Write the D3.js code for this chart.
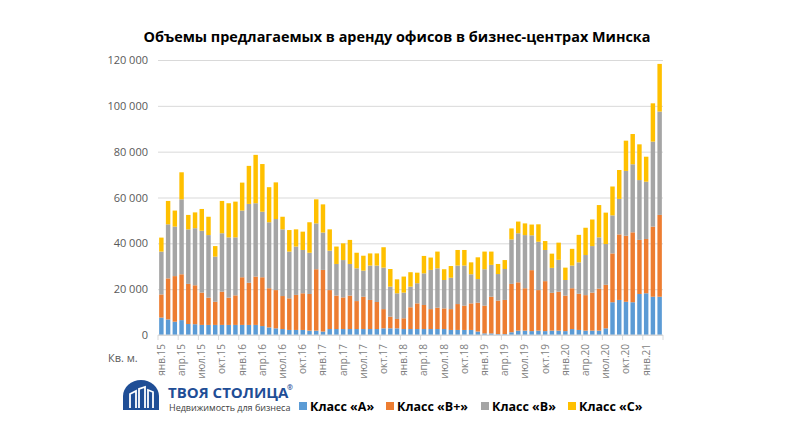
<!DOCTYPE html>
<html>
<head>
    <meta charset="UTF-8">
    <title>Объемы предлагаемых в аренду офисов</title>
    <script src="https://cdn.jsdelivr.net/npm/d3@7/dist/d3.min.js"></script>
    <style>
        body { margin: 0; background: #fff; }
        svg { display: block; font-family: "Open Sans", "Noto Sans", sans-serif; }
    </style>
</head>
<body>
<svg id="chart" width="797" height="430"></svg>
<script>
    // months jan 2015 .. mar 2021, values in thousand sq. m
    var monthNames = ["янв", "фев", "мар", "апр", "май", "июн", "июл", "авг", "сен", "окт", "ноя", "дек"];
    var months = [];
    for (var yr = 15; yr <= 21; yr++) {
        monthNames.forEach(function (m, i) {
            if (yr < 21 || i < 3) months.push(m + "." + yr);
        });
    }

    var classA = [7.6, 6.8, 5.8, 6.5, 4.8, 4.7, 4.4, 4.4, 4.4, 4.4, 4.4, 4.4,
        4.4, 4.4, 4.4, 3.9, 3.3, 2.9, 2.6, 2.2, 2.2, 2.2, 1.9, 1.9,
        1.5, 2.6, 2.6, 2.6, 2.6, 2.6, 2.6, 2.6, 2.6, 2.9, 2.9, 2.9,
        2.6, 2.6, 2.6, 2.6, 2.6, 2.6, 2.6, 2.2, 2.2, 2.2, 2.2, 1.5,
        0.7, 0.7, 0.4, 0.4, 1.2, 1.9, 1.9, 1.7, 1.9, 1.7, 1.9, 1.9,
        1.7, 2.6, 2.2, 1.9, 1.9, 1.9, 2.9, 14.3, 15.3, 14.5, 14.3, 17.9,
        18.2, 16.7, 16.7];
    var classBplus = [10.1, 17.9, 19.9, 20.0, 17.5, 17.0, 14.1, 11.9, 10.1, 14.5, 11.9, 12.9,
        20.8, 18.4, 21.1, 21.3, 17.1, 16.7, 14.4, 13.8, 15.3, 16.0, 16.0, 26.8,
        26.9, 17.0, 14.6, 13.8, 14.6, 12.2, 14.1, 12.7, 11.8, 8.4, 5.1, 4.1,
        4.7, 9.5, 11.2, 10.5, 8.7, 9.3, 9.0, 9.1, 11.3, 10.6, 11.6, 12.6,
        12.1, 16.0, 14.6, 14.9, 21.1, 21.1, 18.5, 26.6, 17.7, 21.8, 16.5, 17.0,
        15.5, 17.8, 15.8, 15.5, 16.6, 18.3, 19.0, 21.3, 28.6, 28.8, 30.5, 23.6,
        23.7, 30.6, 35.7];
    var classB = [18.7, 23.6, 21.6, 32.7, 23.8, 24.9, 27.0, 27.3, 19.7, 25.5, 26.3, 25.3,
        29.1, 34.4, 32.0, 28.6, 28.8, 31.0, 29.1, 20.4, 21.1, 18.9, 18.0, 20.0,
        16.3, 17.2, 13.8, 16.3, 13.8, 14.3, 11.4, 15.0, 15.9, 18.1, 13.1, 11.2,
        11.2, 9.0, 8.8, 13.8, 17.1, 17.2, 12.4, 13.7, 16.8, 17.5, 12.7, 10.3,
        15.9, 13.9, 11.6, 13.5, 19.4, 21.4, 23.2, 15.2, 21.1, 13.6, 10.9, 13.9,
        6.8, 9.9, 13.7, 17.5, 20.3, 22.4, 17.8, 16.6, 15.5, 28.3, 29.7, 26.1,
        25.0, 37.1, 45.1];
    var classC = [6.1, 10.2, 7.0, 11.8, 6.3, 6.9, 9.5, 8.0, 4.6, 14.1, 14.9, 15.6,
        12.2, 16.6, 21.1, 20.8, 15.3, 16.0, 5.5, 9.4, 7.5, 8.0, 13.3, 10.5,
        12.3, 9.3, 7.6, 7.3, 10.5, 6.8, 6.5, 5.3, 5.3, 8.9, 7.7, 6.1,
        7.0, 6.3, 4.6, 7.6, 5.4, 7.3, 4.7, 5.1, 6.8, 6.8, 5.2, 9.5,
        7.7, 5.8, 4.4, 3.9, 4.8, 5.1, 5.1, 4.7, 7.6, 3.9, 6.2, 7.5,
        5.4, 7.3, 12.0, 11.9, 11.6, 14.1, 13.7, 12.6, 12.6, 13.2, 13.2, 15.6,
        10.9, 16.7, 20.8];

    var seriesNames = ["Класс «А»", "Класс «В+»", "Класс «В»", "Класс «С»"];
    var seriesColors = ["#5b9bd5", "#ed7d31", "#a5a5a5", "#ffc000"];
    var yTicks = [0, 20, 40, 60, 80, 100, 120];

    var rows = months.map(function (m, i) {
        return { month: m, a: classA[i], bp: classBplus[i], b: classB[i], c: classC[i] };
    });
    var keys = ["a", "bp", "b", "c"];
    var stacked = d3.stack().keys(keys)(rows);

    var svg = d3.select("#chart");
    // plot box (note: "top" is reserved on window, so prefixed names)
    var plotLeft = 158, plotRight = 663, plotTop = 60, plotBottom = 335;

    var x = d3.scaleBand()
            .domain(months)
            .range([plotLeft, plotRight])
            .paddingInner(0.34)
            .paddingOuter(0.17);
    var y = d3.scaleLinear()
            .domain([0, 120])
            .range([plotBottom, plotTop]);

    // title
    svg.append("text")
            .attr("x", 397)
            .attr("y", 42)
            .attr("text-anchor", "middle")
            .style("font-size", "14.4px")
            .style("font-weight", "700")
            .style("fill", "#000")
            .text("Объемы предлагаемых в аренду офисов в бизнес-центрах Минска");

    // gridlines + y labels
    var yAxis = svg.append("g")
            .attr("transform", "translate(" + plotLeft + ",0)")
            .call(d3.axisLeft(y)
                    .tickValues(yTicks)
                    .tickSize(-(plotRight - plotLeft))
                    .tickPadding(10)
                    .tickFormat(function (d) {
                        return d === 0 ? "0" : d + " 000";
                    }));
    yAxis.select(".domain").remove();
    yAxis.selectAll(".tick line").attr("stroke", "#d9d9d9").attr("stroke-width", 1);
    yAxis.selectAll(".tick text")
            .style("font-size", "11px")
            .style("fill", "#595959")
            .style("font-family", "'Open Sans', sans-serif");

    // bars
    svg.append("g")
            .selectAll("g")
            .data(stacked)
            .enter()
            .append("g")
            .attr("fill", function (d, i) {
                return seriesColors[i];
            })
            .selectAll("rect")
            .data(function (d) {
                return d;
            })
            .enter()
            .append("rect")
            .attr("x", function (d) {
                return x(d.data.month);
            })
            .attr("y", function (d) {
                return y(d[1]);
            })
            .attr("width", x.bandwidth())
            .attr("height", function (d) {
                return y(d[0]) - y(d[1]);
            });

    // x axis line and quarter ticks
    svg.append("line")
            .attr("x1", plotLeft).attr("x2", plotRight)
            .attr("y1", plotBottom).attr("y2", plotBottom)
            .attr("stroke", "#d9d9d9");

    var step = x.step();
    var tickIdx = d3.range(0, months.length + 1, 3);
    svg.append("g")
            .selectAll("line")
            .data(tickIdx)
            .enter()
            .append("line")
            .attr("x1", function (i) { return plotLeft + i * step; })
            .attr("x2", function (i) { return plotLeft + i * step; })
            .attr("y1", plotBottom)
            .attr("y2", plotBottom + 5)
            .attr("stroke", "#d9d9d9");

    var quarterLabels = months.filter(function (m, i) {
        return i % 3 === 0;
    });
    svg.append("g")
            .selectAll("text")
            .data(quarterLabels)
            .enter()
            .append("text")
            .attr("transform", function (m) {
                return "translate(" + (x(m) + x.bandwidth() / 2 + 3.5) + "," + (plotBottom + 9) + ") rotate(-90)";
            })
            .attr("text-anchor", "end")
            .style("font-size", "10px")
            .style("fill", "#7f7f7f")
            .text(function (m) {
                return m;
            });

    svg.append("text")
            .attr("x", 108)
            .attr("y", 362)
            .style("font-size", "11px")
            .style("fill", "#595959")
            .text("Кв. м.");

    // logo
    var logo = svg.append("g").attr("transform", "translate(123,380)");
    logo.append("path")
            .attr("d", "M0,30 L0,16 A18,16 0 0 1 36,16 L36,30 Z")
            .attr("fill", "#1f4e96");
    logo.append("path")
            .attr("d", "M7,28 L7,14 L13,11 L13,28 M16,28 L16,9 L22,7 L22,28 M25,28 L25,10 L30,12 L30,28")
            .attr("fill", "none")
            .attr("stroke", "#fff")
            .attr("stroke-width", 1.8);
    svg.append("text")
            .attr("x", 168)
            .attr("y", 398)
            .style("font-size", "15px")
            .style("font-weight", "700")
            .style("fill", "#1f4e96")
            .text("ТВОЯ СТОЛИЦА");
    svg.append("text")
            .attr("x", 287)
            .attr("y", 390)
            .style("font-size", "7px")
            .style("font-weight", "700")
            .style("fill", "#1f4e96")
            .text("®");
    svg.append("text")
            .attr("x", 169)
            .attr("y", 411)
            .style("font-size", "9px")
            .style("fill", "#404040")
            .text("Недвижимость для бизнеса");

    // legend
    var legendX = [299, 386, 481, 568];
    var legend = svg.append("g")
            .selectAll("g")
            .data(seriesNames)
            .enter()
            .append("g")
            .attr("transform", function (d, i) {
                return "translate(" + legendX[i] + ",402)";
            });
    legend.append("rect")
            .attr("width", 8)
            .attr("height", 8)
            .attr("fill", function (d, i) {
                return seriesColors[i];
            });
    legend.append("text")
            .attr("x", 11)
            .attr("y", 9)
            .style("font-size", "12.5px")
            .style("font-weight", "700")
            .style("fill", "#000")
            .text(function (d) {
                return d;
            });
</script>
</body>
</html>
